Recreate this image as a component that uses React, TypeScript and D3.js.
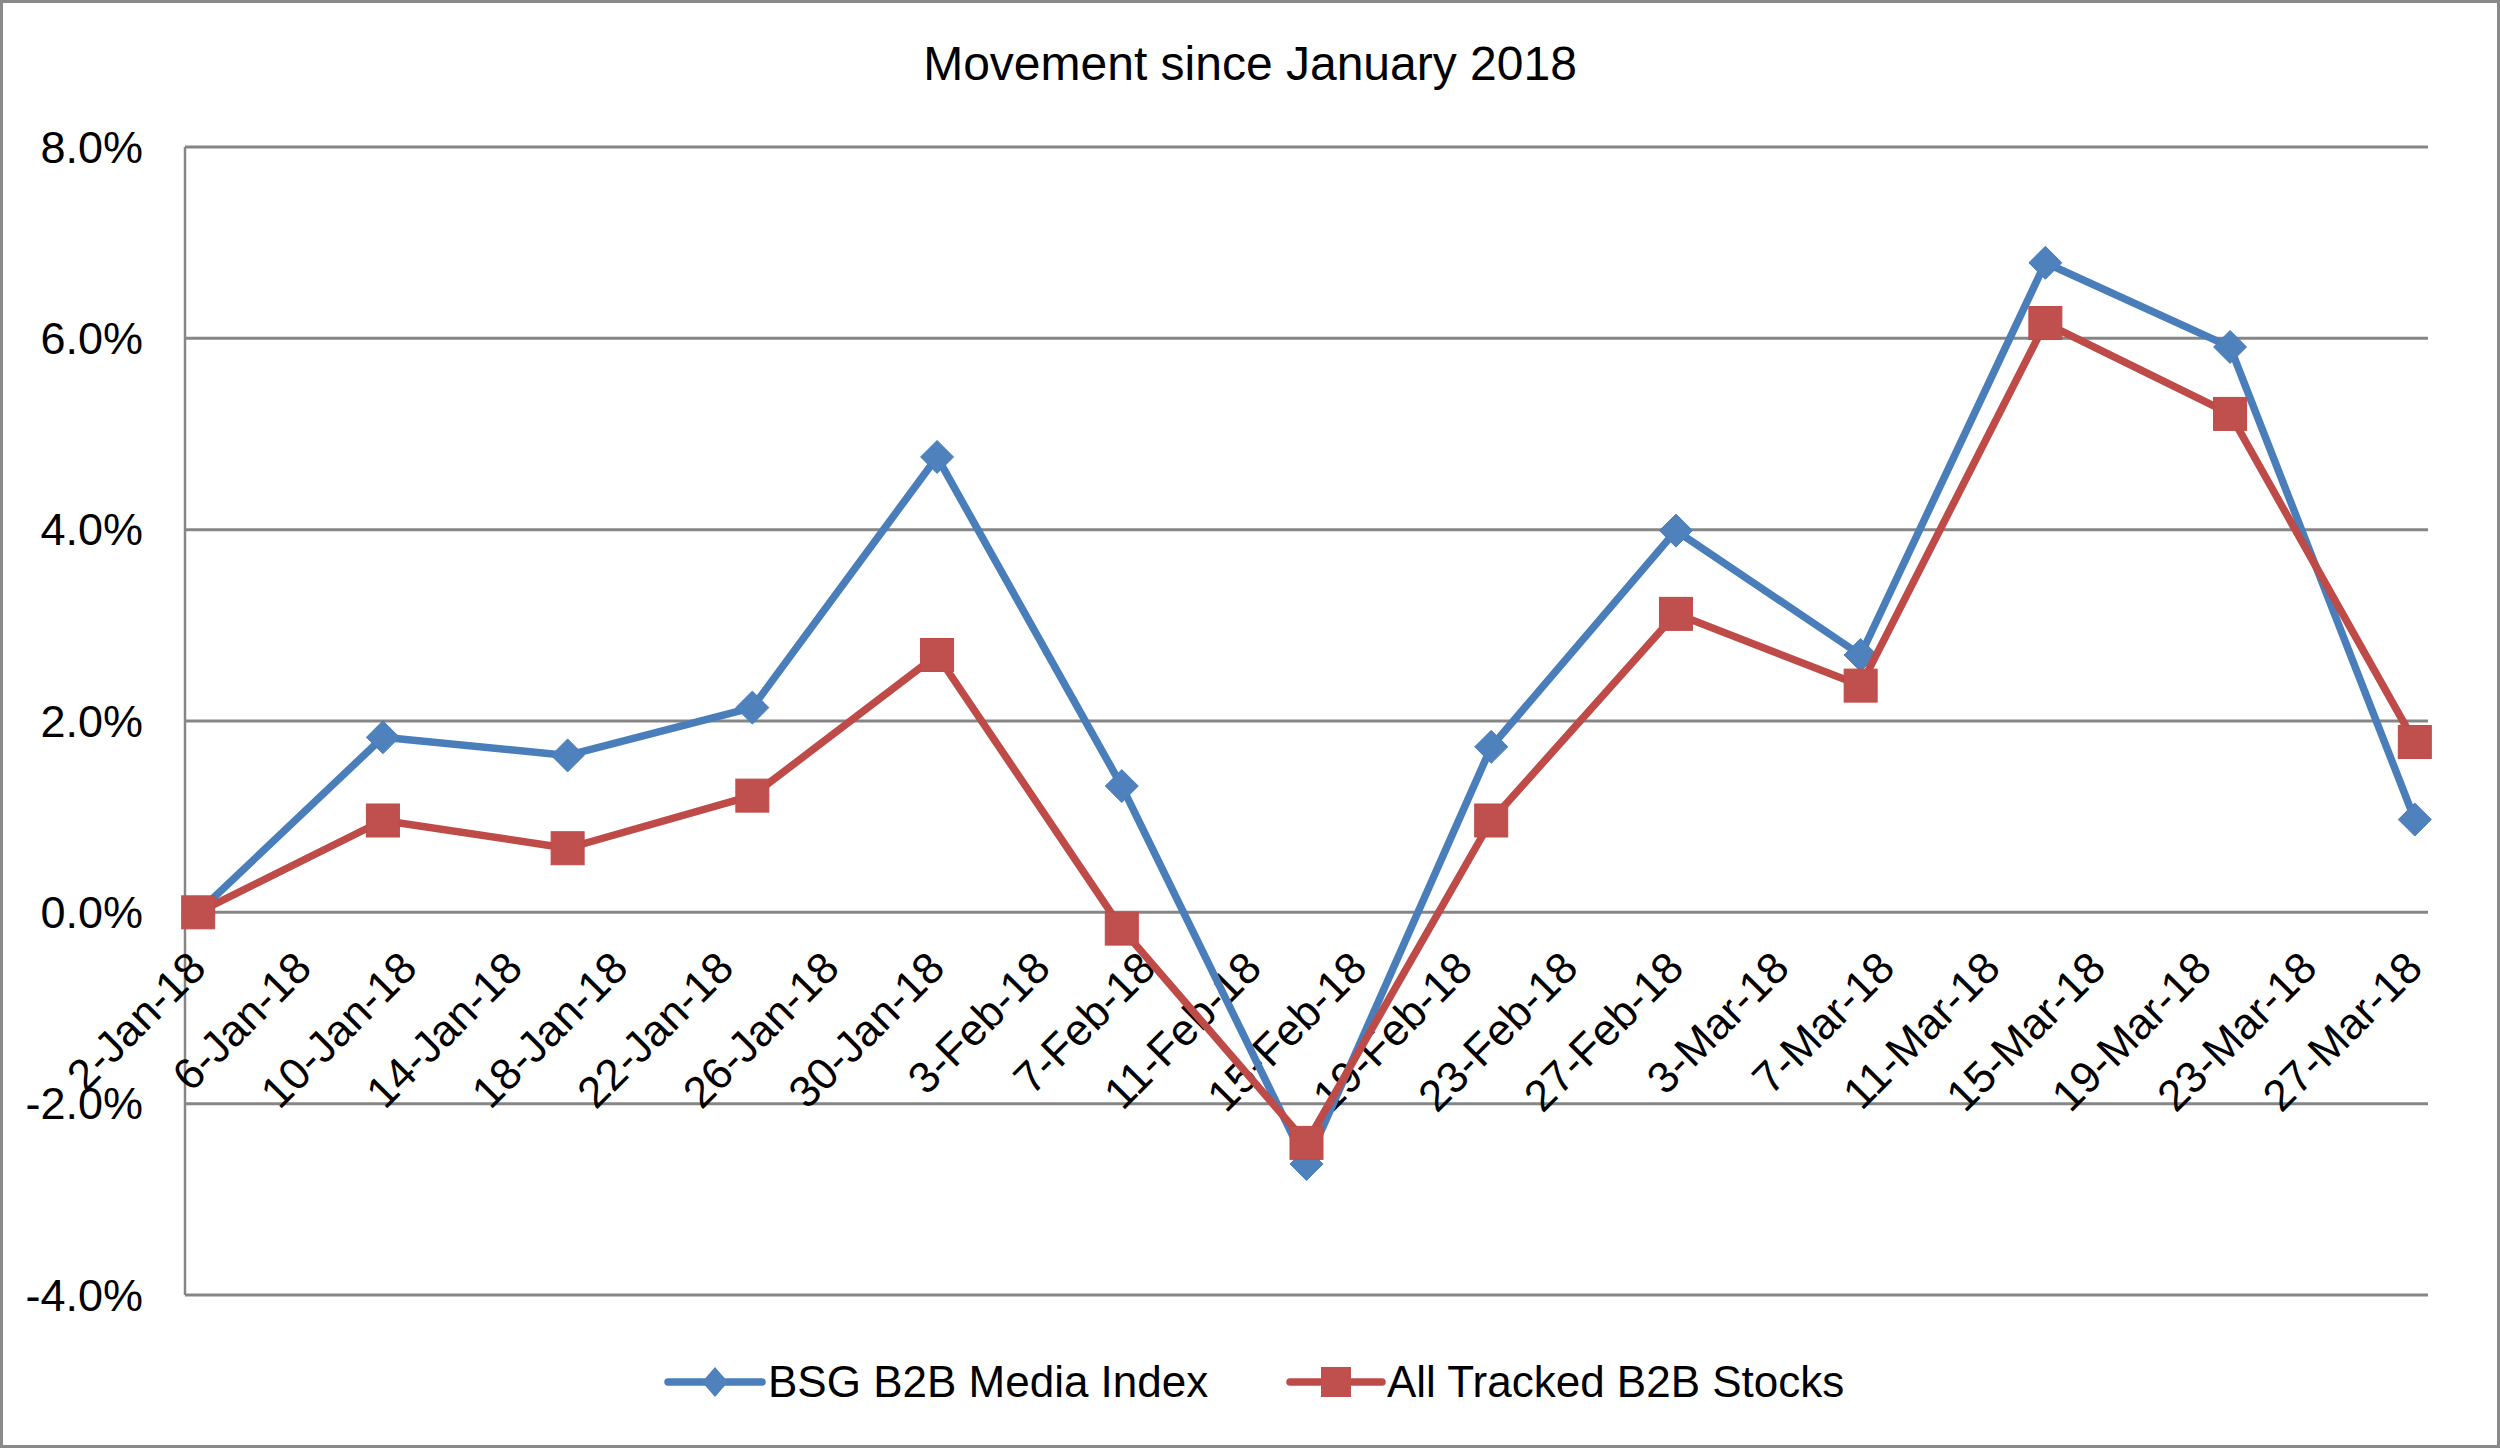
import React from "react";
import * as d3 from "d3";

const W = 2500;
const H = 1448;

const title = "Movement since January 2018";
const seriesNames = ["BSG B2B Media Index", "All Tracked B2B Stocks"];
const dates = [
  "2018-01-02", "2018-01-09", "2018-01-16", "2018-01-23", "2018-01-30",
  "2018-02-06", "2018-02-13", "2018-02-20", "2018-02-27",
  "2018-03-06", "2018-03-13", "2018-03-20", "2018-03-27",
];
const bsgIndex = [0.0, 1.83, 1.64, 2.14, 4.76, 1.32, -2.63, 1.73, 3.99, 2.69, 6.79, 5.91, 0.97];
const allTracked = [0.0, 0.96, 0.67, 1.22, 2.69, -0.17, -2.41, 0.96, 3.12, 2.37, 6.16, 5.21, 1.78];
const tickDates = [
  "2018-01-02", "2018-01-06", "2018-01-10", "2018-01-14", "2018-01-18", "2018-01-22",
  "2018-01-26", "2018-01-30", "2018-02-03", "2018-02-07", "2018-02-11", "2018-02-15",
  "2018-02-19", "2018-02-23", "2018-02-27", "2018-03-03", "2018-03-07", "2018-03-11",
  "2018-03-15", "2018-03-19", "2018-03-23", "2018-03-27",
];
const yTicks = [-4, -2, 0, 2, 4, 6, 8];

const FONT = "'Liberation Sans', Arial, sans-serif";
const BLUE_LINE = "#4A7EBB";
const BLUE_MARK = "#4F81BD";
const RED_LINE = "#BE4B48";
const RED_MARK = "#C0504D";
const GRID = "#868686";

export default function App() {
  const left = 185;
  const right = 2428;
  const top = 147;
  const bottom = 1295;

  const parse = d3.utcParse("%Y-%m-%d");
  const fmt = d3.utcFormat("%-d-%b-%y");
  const pts = dates.map((d) => parse(d) as Date);
  const halfDay = 12 * 3600 * 1000;
  const x = d3
    .scaleUtc()
    .domain([new Date(+pts[0] - halfDay), new Date(+pts[pts.length - 1] + halfDay)])
    .range([left, right]);
  const y = d3.scaleLinear().domain([-4, 8]).range([bottom, top]);

  const line = d3
    .line<number>()
    .x((_, i) => x(pts[i]))
    .y((v) => y(v));

  const diamond = (cx: number, cy: number, hw: number, hh: number) =>
    `M${cx},${cy - hh}L${cx + hw},${cy}L${cx},${cy + hh}L${cx - hw},${cy}Z`;

  const pct = (t: number) => d3.format(".1f")(t).replace("\u2212", "-") + "%";

  const y0 = y(0);
  const legendY = 1382;

  return (
    <div style={{ position: "absolute", left: 0, top: 0 }}>
      <svg width={W} height={H} viewBox={`0 0 ${W} ${H}`} style={{ display: "block" }}>
        <rect x={0} y={0} width={W} height={H} fill="#fff" />
        <rect x={1.5} y={1.5} width={W - 3} height={H - 3} fill="none" stroke="#898989" strokeWidth={3} />
        <text x={1250} y={80} textAnchor="middle" fontFamily={FONT} fontSize={48} fill="#000">
          {title}
        </text>

        {yTicks.map((t) => (
          <g key={t}>
            <line x1={left} x2={right} y1={y(t)} y2={y(t)} stroke={GRID} strokeWidth={3} />
            <text
              x={143}
              y={y(t)}
              dy="0.35em"
              textAnchor="end"
              fontFamily={FONT}
              fontSize={45}
              fill="#000"
            >
              {pct(t)}
            </text>
          </g>
        ))}
        <line x1={left} x2={left} y1={top} y2={bottom} stroke={GRID} strokeWidth={2.5} />

        {tickDates.map((d) => {
          const tx = x(parse(d) as Date);
          return (
            <text
              key={d}
              transform={`translate(${tx + 10},${y0 + 58}) rotate(-45)`}
              textAnchor="end"
              fontFamily={FONT}
              fontSize={44}
              fill="#000"
            >
              {fmt(parse(d) as Date)}
            </text>
          );
        })}

        <path d={line(bsgIndex) || ""} fill="none" stroke={BLUE_LINE} strokeWidth={7.5} strokeLinejoin="round" strokeLinecap="round" />
        {bsgIndex.map((v, i) => (
          <path key={i} d={diamond(x(pts[i]), y(v), 16.5, 16.5)} fill={BLUE_MARK} stroke={BLUE_LINE} strokeWidth={1} />
        ))}
        <path d={line(allTracked) || ""} fill="none" stroke={RED_LINE} strokeWidth={7.5} strokeLinejoin="round" strokeLinecap="round" />
        {allTracked.map((v, i) => (
          <rect key={i} x={x(pts[i]) - 16.5} y={y(v) - 16.5} width={33} height={33} fill={RED_MARK} stroke={RED_LINE} strokeWidth={1} />
        ))}

        <g>
          <line x1={668} x2={762} y1={legendY} y2={legendY} stroke={BLUE_LINE} strokeWidth={7.5} strokeLinecap="round" />
          <path d={diamond(715, legendY, 13, 15)} fill={BLUE_MARK} />
          <text x={768} y={legendY} dy="0.35em" fontFamily={FONT} fontSize={44} fill="#000">
            {seriesNames[0]}
          </text>
          <line x1={1290} x2={1382} y1={legendY} y2={legendY} stroke={RED_LINE} strokeWidth={7.5} strokeLinecap="round" />
          <rect x={1321} y={legendY - 15} width={30} height={30} fill={RED_MARK} />
          <text x={1387} y={legendY} dy="0.35em" fontFamily={FONT} fontSize={44} fill="#000">
            {seriesNames[1]}
          </text>
        </g>
      </svg>
    </div>
  );
}
